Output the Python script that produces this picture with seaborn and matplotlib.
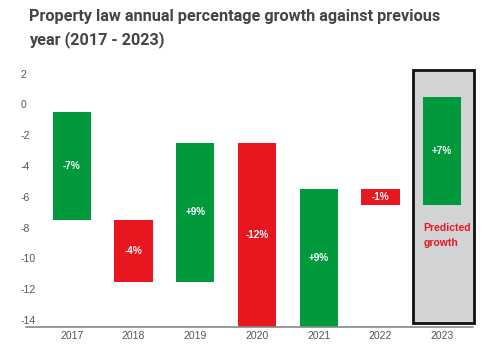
import numpy as np
import pandas as pd
import matplotlib
matplotlib.use("Agg")
import matplotlib.pyplot as plt
from matplotlib.patches import Rectangle
import seaborn as sns

years = ["2017", "2018", "2019", "2020", "2021", "2022", "2023"]
changes = [-7, -4, 9, -12, 9, -1, 7]
start_level = -0.5
bar_colors = ["#009a3d", "#e8161f", "#009a3d", "#e8161f", "#009a3d", "#e8161f", "#009a3d"]
y_ticks = [2, 0, -2, -4, -6, -8, -10, -12, -14]
highlight_year = "2023"
highlight_note = "Predicted\ngrowth"
title = "Property law annual percentage growth against previous\nyear (2017 - 2023)"

# running levels of the waterfall
ends = start_level + np.cumsum(changes)
starts = np.concatenate([[start_level], ends[:-1]])
df = pd.DataFrame({
    "year": years,
    "bottom": np.minimum(starts, ends),
    "height": np.abs(changes),
    "change": changes,
})

sns.set_theme(style="white")
plt.rcParams["font.family"] = ["Liberation Sans", "DejaVu Sans"]

fig = plt.figure(figsize=(4.96, 3.49), dpi=100)
ax = fig.add_axes([41 / 496, 1 - 327 / 349, 432 / 496, (327 - 62) / 349])

ymin, ymax = -14.45, 2.75
ax.set_ylim(ymin, ymax)
ax.set_xlim(-0.5, 6.5)

# highlight panel behind the forecast year
hi = years.index(highlight_year)
ax.add_patch(Rectangle((hi - 0.47, -14.2), 0.98, 16.4, facecolor="#d2d3d5",
                       edgecolor="#111111", linewidth=2, zorder=0,
                       clip_on=False))

# floating bars drawn through seaborn, then shifted to their bottoms
sns.barplot(data=df, x="year", y="height", order=years, ax=ax,
            palette=bar_colors, hue="year", legend=False, width=0.62,
            saturation=1, zorder=2)
for patch, b in zip(ax.patches[1:], df["bottom"]):
    patch.set_y(b)
    patch.set_edgecolor("none")

for i, (b, h, c) in enumerate(zip(df["bottom"], df["height"], df["change"])):
    ax.text(i, b + h / 2, f"{c:+d}%",
            ha="center", va="center", color="white", fontsize=7.2,
            fontweight="bold", zorder=3)

ax.text(hi - 0.3, -8.5, highlight_note, ha="left", va="center",
        color="#e8161f", fontsize=7.5, fontweight="bold", linespacing=1.6)

ax.set_yticks(y_ticks)
ax.set_yticklabels([str(t) for t in y_ticks])
ax.tick_params(axis="y", length=0, labelsize=7.5, labelcolor="#555555", pad=15)
for lab in ax.get_yticklabels():
    lab.set_ha("left")
ax.tick_params(axis="x", length=0, labelsize=7.5, labelcolor="#555555", pad=3)
ax.set_xlabel("")
ax.set_ylabel("")

for s in ax.spines.values():
    s.set_visible(False)
ax.plot([-15 / 432, 1.0], [0, 0], transform=ax.transAxes, color="#888888",
        linewidth=1.2, clip_on=False, zorder=4)

fig.text(29 / 496, 1 - 9 / 349, title, ha="left", va="top", fontsize=11.7,
         fontweight="bold", color="#444444", family=["Roboto", "DejaVu Sans"],
         linespacing=1.55)

fig.savefig("out.png", dpi=100, facecolor="white")
